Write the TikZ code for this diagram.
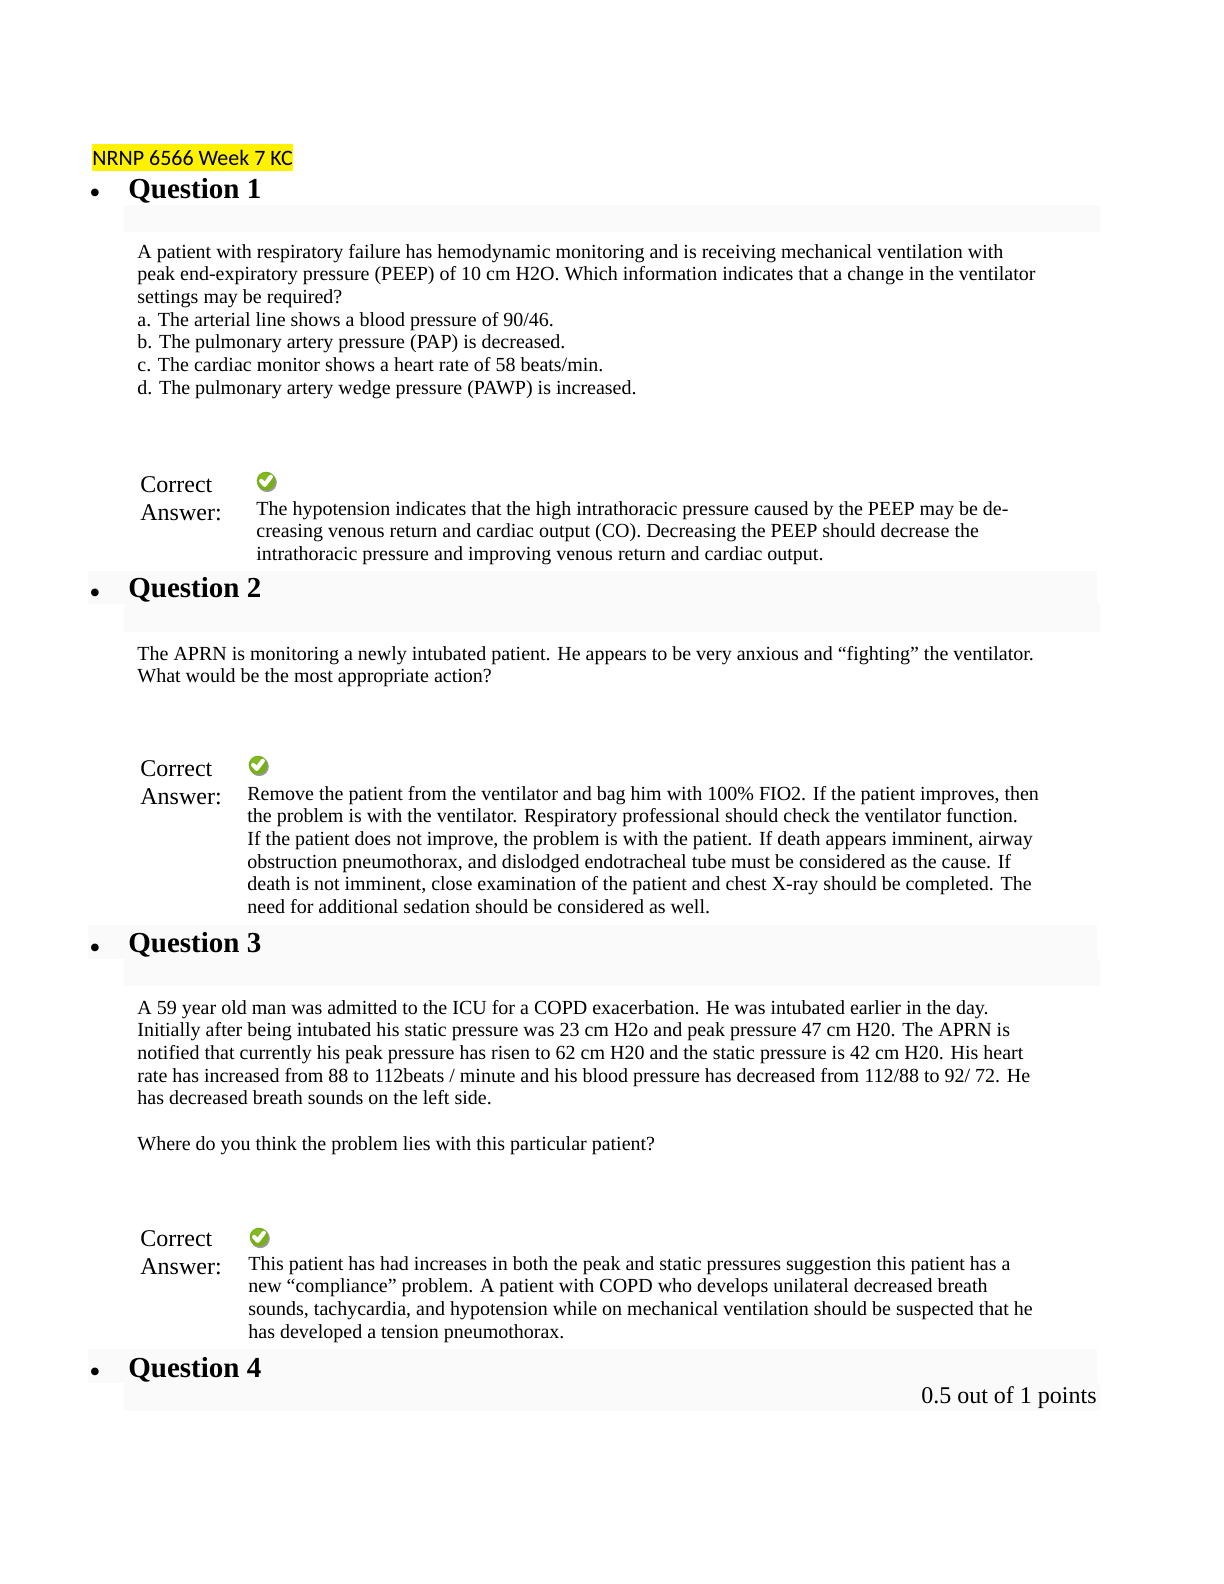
\documentclass[tikz,border=0pt]{standalone}
\usepackage{fontspec}
\setmainfont{Liberation Serif}
\newfontfamily\calib{Carlito}
\newcommand{\lns}[1]{\vtop{\halign{##\hfil\cr#1\crcr}}}
\tikzset{
  band/.style={fill=black!2, draw=none},
  body/.style={anchor=base west, inner sep=0pt, font=\fontsize{10}{11.35}\selectfont},
  qhead/.style={anchor=base west, inner sep=0pt, font=\fontsize{14.5}{17}\bfseries\selectfont},
  bul/.style={anchor=base, inner sep=0pt, font=\fontsize{16}{18}\selectfont},
  corr/.style={anchor=base west, inner sep=0pt, font=\fontsize{12}{14}\selectfont},
}
\newcommand{\chk}[2]{%
  \fill[color=black!40] (#1+1.2,#2+1.5) circle (9.6);
  \fill[color={rgb,255:red,118;green,176;blue,22}] (#1,#2) circle (9.2);
  \fill[color={rgb,255:red,150;green,200;blue,60}] (#1-1.5,#2-2) circle (6);
  \fill[color={rgb,255:red,118;green,176;blue,22}, opacity=0.6] (#1,#2) circle (9.2);
  \draw[white, line width=2.1pt, line cap=round, line join=round] (#1-4.8,#2) -- (#1-1.3,#2+3.8) -- (#1+4.8,#2-4.2);
}
\begin{document}
\begin{tikzpicture}[x=0.5pt,y=-0.5pt]
\fill[white] (0,0) rectangle (1224,1584);
% header
\fill[yellow] (92,144) rectangle (293,171);
\node[anchor=base west, inner sep=0pt, font=\calib\fontsize{11}{13}\selectfont] (hdr) at (92,165) {NRNP 6566 Week 7 KC};
% ---------- Question 1
\fill[band] (124,205) rectangle (1100,232);
\node[bul] (b1) at (95,203) {•};
\node[qhead] (q1) at (128,198) {Question 1};
\node[body] (q1t) at (137,258) {\lns{A patient with respiratory failure has hemodynamic monitoring and is receiving mechanical ventilation with\cr
peak end-expiratory pressure (PEEP) of 10 cm H2O. Which information indicates that a change in the ventilator\cr
settings may be required?\cr
a. The arterial line shows a blood pressure of 90/46.\cr
b. The pulmonary artery pressure (PAP) is decreased.\cr
c. The cardiac monitor shows a heart rate of 58 beats/min.\cr
d. The pulmonary artery wedge pressure (PAWP) is increased.}};
\node[corr] (c1) at (140,492) {\lns{Correct\cr Answer:}};
\chk{266}{481}
\node[body] (a1) at (256,515) {\lns{The hypotension indicates that the high intrathoracic pressure caused by the PEEP may be de-\cr
creasing venous return and cardiac output (CO). Decreasing the PEEP should decrease the\cr
intrathoracic pressure and improving venous return and cardiac output.}};
% ---------- Question 2
\fill[band] (88,571) rectangle (1097,604);
\fill[band] (124,604) rectangle (1100,632);
\node[bul] (b2) at (95,603) {•};
\node[qhead] (q2) at (128,597) {Question 2};
\node[body] (q2t) at (137,660) {\lns{The APRN is monitoring a newly intubated patient. He appears to be very anxious and “fighting” the ventilator.\cr
What would be the most appropriate action?}};
\node[corr] (c2) at (140,776) {\lns{Correct\cr Answer:}};
\chk{258}{765}
\node[body] (a2) at (247,800) {\lns{Remove the patient from the ventilator and bag him with 100\% FIO2. If the patient improves, then\cr
the problem is with the ventilator. Respiratory professional should check the ventilator function.\cr
If the patient does not improve, the problem is with the patient. If death appears imminent, airway\cr
obstruction pneumothorax, and dislodged endotracheal tube must be considered as the cause. If\cr
death is not imminent, close examination of the patient and chest X-ray should be completed. The\cr
need for additional sedation should be considered as well.}};
% ---------- Question 3
\fill[band] (88,925) rectangle (1097,959);
\fill[band] (124,959) rectangle (1100,986);
\node[bul] (b3) at (95,958) {•};
\node[qhead] (q3) at (128,952) {Question 3};
\node[body] (q3t) at (137,1014) {\lns{A 59 year old man was admitted to the ICU for a COPD exacerbation. He was intubated earlier in the day.\cr
Initially after being intubated his static pressure was 23 cm H2o and peak pressure 47 cm H20. The APRN is\cr
notified that currently his peak pressure has risen to 62 cm H20 and the static pressure is 42 cm H20. His heart\cr
rate has increased from 88 to 112beats / minute and his blood pressure has decreased from 112/88 to 92/ 72. He\cr
has decreased breath sounds on the left side.}};
\node[body] (q3w) at (137,1150) {Where do you think the problem lies with this particular patient?};
\node[corr] (c3) at (140,1246) {\lns{Correct\cr Answer:}};
\chk{259}{1237}
\node[body] (a3) at (248,1270) {\lns{This patient has had increases in both the peak and static pressures suggestion this patient has a\cr
new “compliance” problem. A patient with COPD who develops unilateral decreased breath\cr
sounds, tachycardia, and hypotension while on mechanical ventilation should be suspected that he\cr
has developed a tension pneumothorax.}};
% ---------- Question 4
\fill[band] (88,1349) rectangle (1097,1383);
\fill[band] (124,1383) rectangle (1100,1411);
\node[bul] (b4) at (95,1382) {•};
\node[qhead] (q4) at (128,1377) {Question 4};
\node[anchor=base east, inner sep=0pt, font=\fontsize{12}{14}\selectfont] (pts) at (1097,1403) {0.5 out of 1 points};
\pgfresetboundingbox
\useasboundingbox (0,0) rectangle (1224,1584);
\end{tikzpicture}
\end{document}
